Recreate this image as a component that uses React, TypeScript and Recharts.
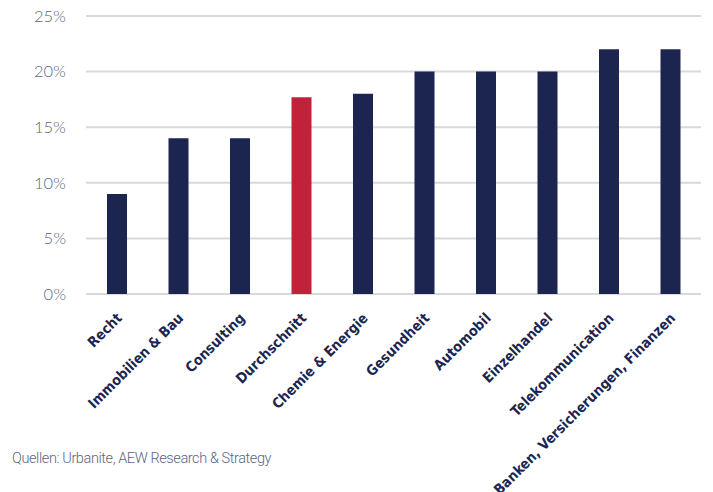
import { BarChart, Bar, XAxis, YAxis, CartesianGrid, Cell } from 'recharts';

const categories = [
  'Recht',
  'Immobilien & Bau',
  'Consulting',
  'Durchschnitt',
  'Chemie & Energie',
  'Gesundheit',
  'Automobil',
  'Einzelhandel',
  'Telekommunication',
  'Banken, Versicherungen, Finanzen',
];
const shares = [9, 14, 14, 17.7, 18, 20, 20, 20, 22, 22];
const highlight = 'Durchschnitt';
const yTicks = [0, 5, 10, 15, 20, 25];
const sourceNote = 'Quellen: Urbanite, AEW Research & Strategy';

const NAVY = '#1b2550';
const RED = '#c1223a';
const MUTED = '#5b6683';

const data = categories.map((name, i) => ({ name, value: shares[i] }));

function CategoryTick(props: any) {
  const { x, y, payload } = props;
  return (
    <g transform={`translate(${x + 6},${y + 17}) rotate(-45)`}>
      <text
        x={0}
        y={0}
        textAnchor="end"
        fill={NAVY}
        fontSize={14.2}
        fontWeight={700}
        fontFamily="'DejaVu Sans Condensed', sans-serif"
      >
        {payload.value}
      </text>
    </g>
  );
}

export default function App() {
  return (
    <div style={{ position: 'absolute', left: 0, top: 0, width: 713, height: 492, background: '#fff', overflow: 'hidden' }}>
      <BarChart
        width={713}
        height={492}
        data={data}
        margin={{ top: 16, right: 12, bottom: 28, left: 0 }}
      >
        <CartesianGrid vertical={false} stroke="#d9d9d9" strokeWidth={2} />
        <XAxis
          dataKey="name"
          interval={0}
          axisLine={false}
          tickLine={false}
          height={170}
          tick={<CategoryTick />}
        />
        <YAxis
          domain={[0, 25]}
          ticks={yTicks}
          width={86}
          axisLine={false}
          tickLine={false}
          tickSize={0}
          tickMargin={20}
          tickFormatter={(v: number) => `${v}%`}
          tick={{ fill: MUTED, fontSize: 16.5, fontFamily: 'Lato', fontWeight: 300 }}
        />
        <Bar dataKey="value" barSize={20} isAnimationActive={false}>
          {data.map((d) => (
            <Cell key={d.name} fill={d.name === highlight ? RED : NAVY} />
          ))}
        </Bar>
      </BarChart>
      <div
        style={{
          position: 'absolute',
          left: 12,
          top: 450,
          color: MUTED,
          fontSize: 14.5,
          fontWeight: 300,
          letterSpacing: -0.4,
          fontFamily: 'Roboto, sans-serif',
        }}
      >
        {sourceNote}
      </div>
    </div>
  );
}
